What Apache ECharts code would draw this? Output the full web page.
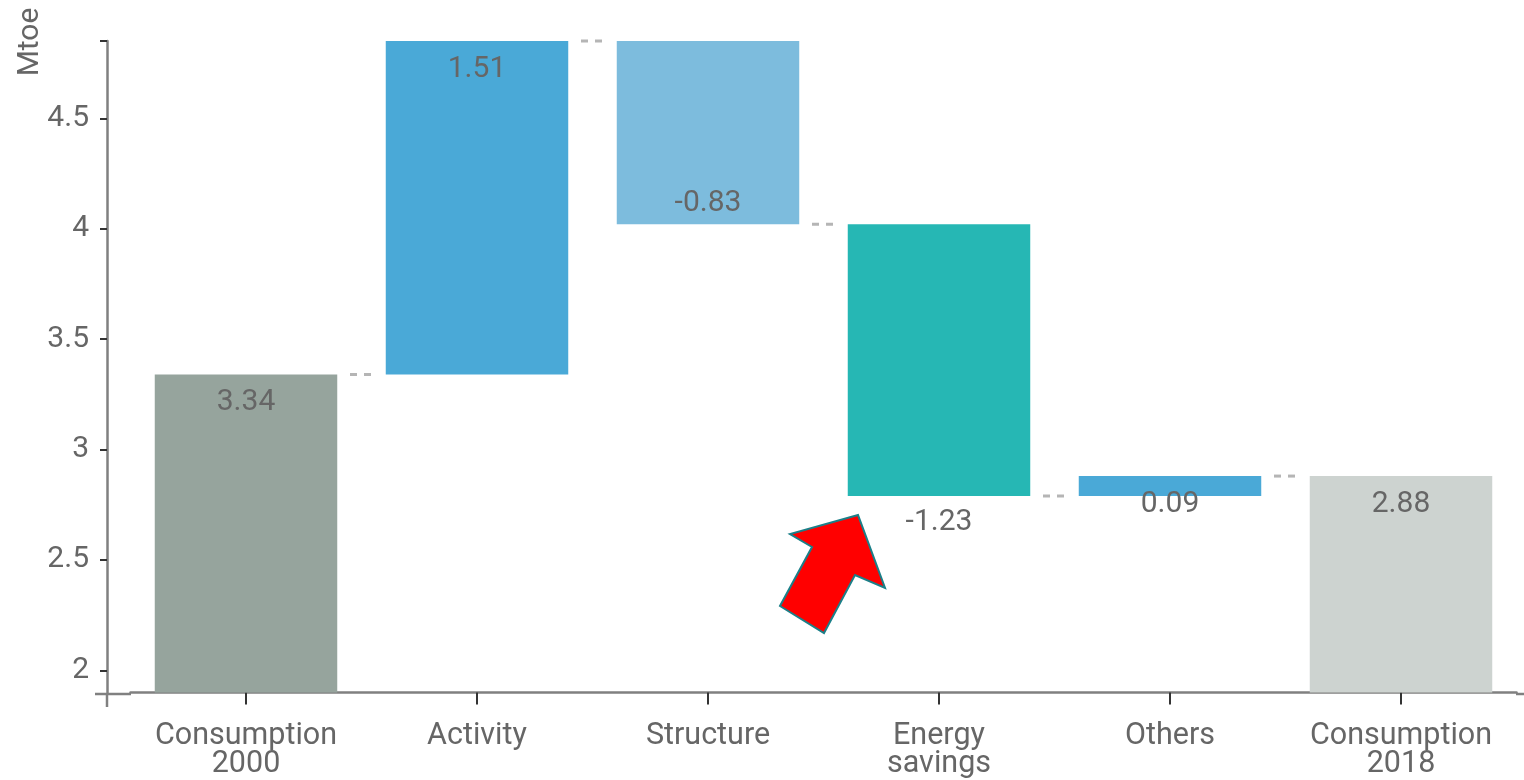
<!DOCTYPE html>
<html>
<head>
<meta charset="utf-8">
<script src="https://cdn.jsdelivr.net/npm/echarts@6/dist/echarts.min.js"></script>
<style>html,body{margin:0;padding:0;background:#fff}#c{width:1524px;height:780px}</style>
</head>
<body>
<div id="c"></div>
<script>
const categories = ['Consumption\n2000', 'Activity', 'Structure', 'Energy\nsavings', 'Others', 'Consumption\n2018'];
const values = [3.34, 1.51, -0.83, -1.23, 0.09, 2.88];
const isTotal = [true, false, false, false, false, true];
const colors = ['#96a49d', '#4aa9d7', '#7dbcdd', '#26b7b4', '#4aa9d7', '#cdd3d0'];
const labelPos = ['insideTop', 'insideTop', 'insideBottom', 'bottom', 'insideTop', 'insideTop'];
const labelDist = [14, 14, 7, 13, 14, 14];
const yTickLabels = [2, 2.5, 3, 3.5, 4, 4.5];
const yTicks = [2, 2.5, 3, 3.5, 4, 4.5, 4.85];
const yMin = 1.9, yMax = 4.85;

// build waterfall pieces
const bases = [], heights = [], levels = [];
let running = 0;
values.forEach((v, i) => {
  if (isTotal[i]) { bases.push(0); heights.push(v); running = v; }
  else if (v >= 0) { bases.push(running); heights.push(v); running += v; }
  else { running += v; bases.push(running); heights.push(-v); }
  levels.push(+running.toFixed(4));
});
const connectors = [];
for (let i = 0; i < values.length - 1; i++) connectors.push([i, levels[i]]);

const chart = echarts.init(document.getElementById('c'));
const txt = '#666666';
chart.setOption({
  animation: false,
  grid: { left: 130.5, right: 7.5, top: 41, bottom: 86 },
  xAxis: {
    type: 'category', data: categories,
    axisLine: { show: true, lineStyle: { color: '#808080', width: 2.5 } },
    axisTick: { show: true, alignWithLabel: true, length: 12, lineStyle: { color: '#333', width: 2 } },
    axisLabel: { color: txt, fontFamily: 'Roboto', fontSize: 30.5, lineHeight: 28, margin: 30, interval: 0 }
  },
  yAxis: {
    type: 'value', min: yMin, max: yMax, offset: 23.5,
    splitLine: { show: false },
    axisLine: { show: true, lineStyle: { color: '#808080', width: 2.5 } },
    axisTick: { show: true, length: 7, customValues: yTicks, lineStyle: { color: '#333', width: 2 } },
    axisLabel: { color: txt, fontFamily: 'Roboto', fontSize: 30, margin: 18, customValues: yTickLabels }
  },
  series: [
    {
      type: 'bar', stack: 'w', data: bases, barCategoryGap: '21%',
      itemStyle: { color: 'transparent' }, silent: true
    },
    {
      type: 'bar', stack: 'w',
      data: heights.map((h, i) => ({
        value: h,
        itemStyle: { color: colors[i] },
        label: { show: true, position: labelPos[i], distance: labelDist[i] }
      })),
      label: {
        color: txt, fontFamily: 'Roboto', fontSize: 30, lineHeight: 28,
        formatter: p => String(values[p.dataIndex])
      }
    },
    {
      type: 'custom', data: connectors, silent: true, z: 5,
      renderItem: (params, api) => {
        const i = api.value(0), lvl = api.value(1);
        const a = api.coord([i, lvl]), b = api.coord([i + 1, lvl]);
        const m = (a[0] + b[0]) / 2 - 1;
        return {
          type: 'line',
          shape: { x1: m - 10.5, y1: a[1], x2: m + 10.5, y2: a[1] },
          style: { stroke: '#b5b5b5', lineWidth: 3, lineDash: [7, 7] }
        };
      }
    }
  ],
  graphic: [
    { type: 'text', x: 30, y: 42, rotation: Math.PI / 2,
      style: { text: 'Mtoe', fill: txt, font: '30px Roboto', align: 'center', verticalAlign: 'middle' } },
    { type: 'line', shape: { x1: 95, y1: 694, x2: 131, y2: 694 }, style: { stroke: '#808080', lineWidth: 2.5 } },
    { type: 'line', shape: { x1: 1516, y1: 694, x2: 1524, y2: 694 }, style: { stroke: '#808080', lineWidth: 2.5 } },
    { type: 'line', shape: { x1: 107, y1: 694, x2: 107, y2: 707 }, style: { stroke: '#808080', lineWidth: 2.5 } },
    { type: 'polygon', z: 100,
      shape: { points: [[858, 515], [790, 534], [812, 547], [780, 606], [824, 633], [855, 575], [885, 588]] },
      style: { fill: '#ff0000', stroke: '#1b7f88', lineWidth: 2 } }
  ]
});
</script>
</body>
</html>
